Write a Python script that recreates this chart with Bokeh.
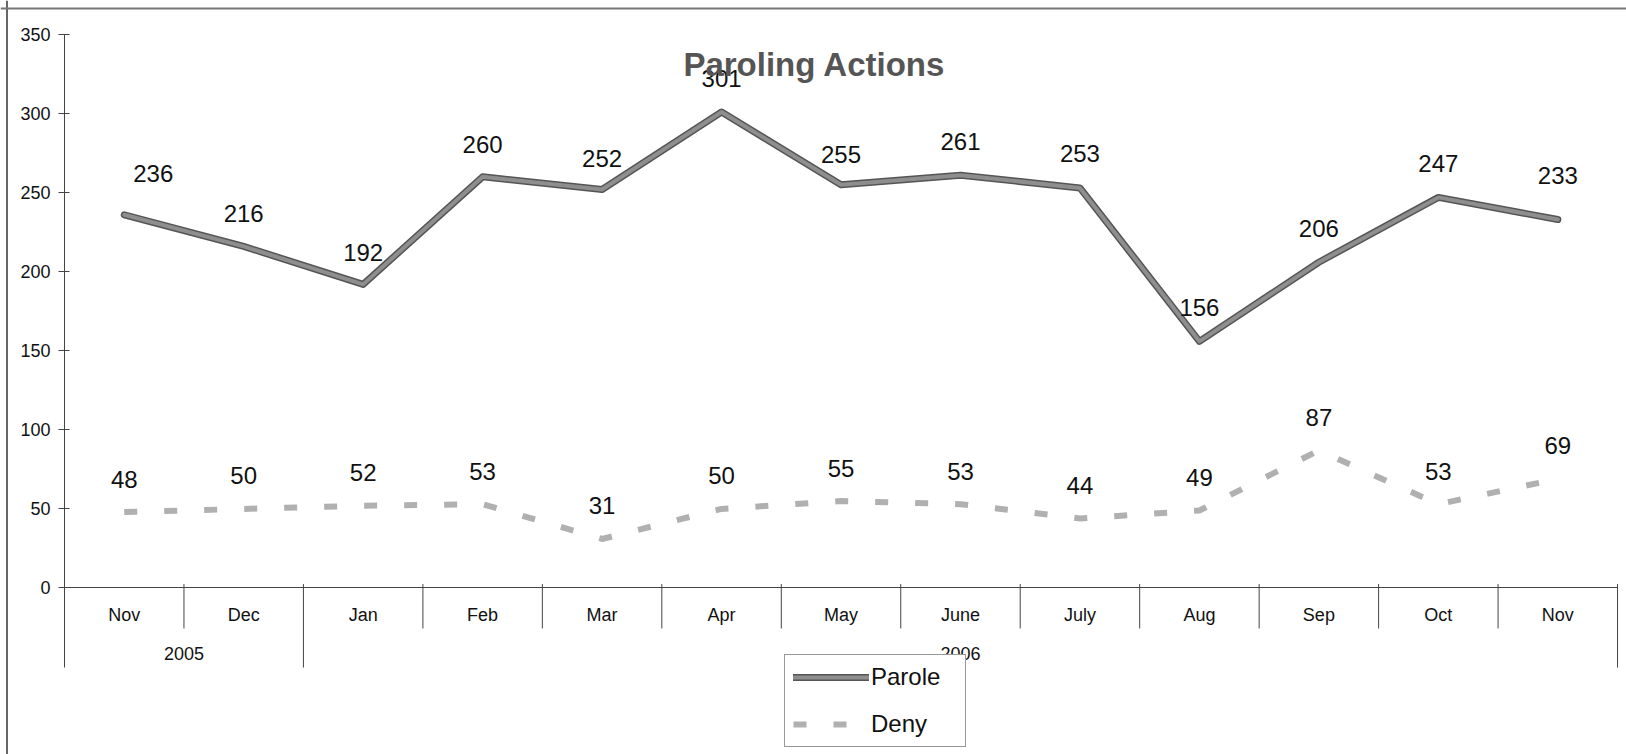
import numpy as np
from bokeh.plotting import figure
from bokeh.models import (Range1d, LinearAxis, FixedTicker, ColumnDataSource,
                          Legend, LegendItem, Label, Span)
from bokeh.core.properties import value
from bokeh.embed import file_html
from bokeh.resources import INLINE

# ---------------- data ----------------
months = ["Nov", "Dec", "Jan", "Feb", "Mar", "Apr", "May", "June", "July",
          "Aug", "Sep", "Oct", "Nov"]
years = ["2005", "2006"]
year_month_counts = [2, 11]
parole = [236, 216, 192, 260, 252, 301, 255, 261, 253, 156, 206, 247, 233]
deny = [48, 50, 52, 53, 31, 50, 55, 53, 44, 49, 87, 53, 69]
y_ticks = [0, 50, 100, 150, 200, 250, 300, 350]

# label nudges (pixels) for the Parole data labels
parole_dx = [29, 0, 0, 0, 0, 0, 0, 0, 0, 0, 0, 0, 0]
parole_dy = [41, 33, 32, 32, 31, 33, 30, 34, 34, 34, 34, 34, 44]

FONT = "Liberation Sans"
W, H = 1626, 754
n = len(months)
xs = np.arange(n) + 0.5

p = figure(width=W, height=H, output_backend="svg", toolbar_location=None,
           x_range=Range1d(-0.5357, 13.075), y_range=Range1d(-105.29, 371.5),
           x_axis_type=None, y_axis_type=None, min_border=0)
p.min_border_left = p.min_border_right = p.min_border_top = p.min_border_bottom = 0
p.outline_line_color = None
p.background_fill_color = "white"
p.border_fill_color = "white"

# chart border (left and top visible)
p.add_layout(Span(location=-0.4813, dimension="height", line_color="#666666", line_width=2))
p.add_layout(Span(location=366.44, dimension="width", line_color="#777777", line_width=2))

# y axis
yax = LinearAxis(fixed_location=0, bounds=(-50.3, 350), ticker=FixedTicker(ticks=y_ticks),
                 major_tick_in=5, major_tick_out=6, minor_tick_line_color=None,
                 axis_line_color="#444444", major_tick_line_color="#444444",
                 major_label_standoff=8, major_label_text_font=FONT,
                 major_label_text_font_size="18px", major_label_text_color="#111111")
p.add_layout(yax, "left")

# x axis with month labels
xax = LinearAxis(fixed_location=0, bounds=(0, n), ticker=FixedTicker(ticks=list(xs)),
                 major_label_overrides={float(x): m for x, m in zip(xs, months)},
                 major_tick_line_color=None, major_tick_in=0, major_tick_out=0,
                 minor_tick_line_color=None, axis_line_color="#444444",
                 major_label_standoff=17, major_label_text_font=FONT,
                 major_label_text_font_size="18px", major_label_text_color="#111111")
p.add_layout(xax, "below")

# category dividers
year_bounds = list(np.cumsum(year_month_counts))
short_b = [b for b in range(1, n) if b not in year_bounds]
p.segment(x0=short_b, y0=[2.5] * len(short_b), x1=short_b, y1=[-25.6] * len(short_b),
          line_color="#444444", line_width=1)
p.segment(x0=year_bounds, y0=[2.5] * len(year_bounds), x1=year_bounds,
          y1=[-50.3] * len(year_bounds), line_color="#444444", line_width=1)

# year labels
starts = [0] + year_bounds[:-1]
year_x = [s + c / 2 for s, c in zip(starts, year_month_counts)]
p.text(x=year_x, y=[-41.4] * len(years), text=years, text_align="center",
       text_baseline="middle", text_font=value(FONT), text_font_size="18px",
       text_color="#111111")

# series lines
r_p1 = p.line(xs, parole, line_color="#555555", line_width=7, line_cap="round",
              line_join="round")
r_p2 = p.line(xs, parole, line_color="#8e8e8e", line_width=4, line_cap="round",
              line_join="round")
r_d = p.line(xs, deny, line_color="#b0b0b0", line_width=6, line_dash="13 27")

# data labels
src_p = ColumnDataSource(dict(x=xs, y=parole, t=[str(v) for v in parole],
                              dx=parole_dx, dy=[-d for d in parole_dy]))
p.text(x="x", y="y", text="t", x_offset="dx", y_offset="dy", source=src_p,
       text_align="center", text_baseline="middle", text_font=value(FONT),
       text_font_size="24px", text_color="#111111")
src_d = ColumnDataSource(dict(x=xs, y=deny, t=[str(v) for v in deny]))
p.text(x="x", y="y", text="t", y_offset=-33, source=src_d,
       text_align="center", text_baseline="middle", text_font=value(FONT),
       text_font_size="24px", text_color="#111111")

# title
p.add_layout(Label(x=814, y=690, x_units="screen", y_units="screen",
                   text="Paroling Actions", text_align="center",
                   text_baseline="alphabetic", text_font=FONT,
                   text_font_size="33px", text_font_style="bold",
                   text_color="#555555"))

# legend
legend = Legend(items=[LegendItem(label="Parole", renderers=[r_p1, r_p2]),
                       LegendItem(label="Deny", renderers=[r_d])],
                location=(784, 7), orientation="vertical",
                glyph_width=76, glyph_height=28, spacing=19, padding=8,
                label_standoff=2, label_width=86, label_height=28,
                label_text_font=FONT, label_text_font_size="24px",
                label_text_color="#111111", border_line_color="#333333",
                border_line_width=1, background_fill_color="white",
                background_fill_alpha=1.0, margin=0)
p.add_layout(legend)

open("out.html", "w").write(file_html(p, INLINE))
